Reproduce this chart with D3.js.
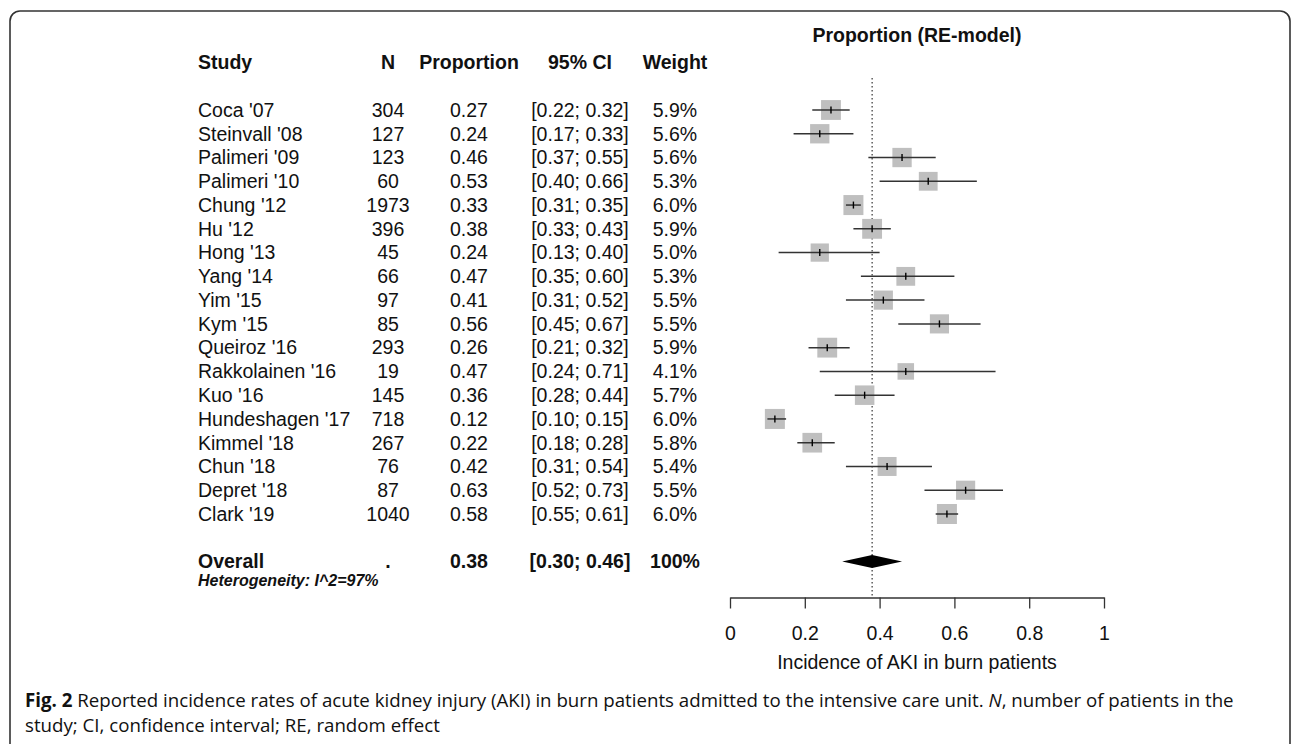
<!DOCTYPE html>
<html>
<head>
<meta charset="utf-8">
<script src="https://cdn.jsdelivr.net/npm/d3@7"></script>
<style>
  body { margin: 0; background: #fff; }
  svg { display: block; }
  text { font-family: "Liberation Sans", Arial, sans-serif; fill: #111; }
</style>
</head>
<body>
<script>
// study rows
const studies = ["Coca '07", "Steinvall '08", "Palimeri '09", "Palimeri '10", "Chung '12", "Hu '12",
  "Hong '13", "Yang '14", "Yim '15", "Kym '15", "Queiroz '16", "Rakkolainen '16", "Kuo '16",
  "Hundeshagen '17", "Kimmel '18", "Chun '18", "Depret '18", "Clark '19"];
const sizes = [304, 127, 123, 60, 1973, 396, 45, 66, 97, 85, 293, 19, 145, 718, 267, 76, 87, 1040];
const proportions = [0.27, 0.24, 0.46, 0.53, 0.33, 0.38, 0.24, 0.47, 0.41, 0.56, 0.26, 0.47, 0.36, 0.12, 0.22, 0.42, 0.63, 0.58];
const ciLow = [0.22, 0.17, 0.37, 0.40, 0.31, 0.33, 0.13, 0.35, 0.31, 0.45, 0.21, 0.24, 0.28, 0.10, 0.18, 0.31, 0.52, 0.55];
const ciHigh = [0.32, 0.33, 0.55, 0.66, 0.35, 0.43, 0.40, 0.60, 0.52, 0.67, 0.32, 0.71, 0.44, 0.15, 0.28, 0.54, 0.73, 0.61];
const weights = [5.9, 5.6, 5.6, 5.3, 6.0, 5.9, 5.0, 5.3, 5.5, 5.5, 5.9, 4.1, 5.7, 6.0, 5.8, 5.4, 5.5, 6.0];

// pooled random-effects estimate
const overallEstimate = [0.38, 0.30, 0.46]; // est, lower, upper
const heterogeneity = "Heterogeneity: I^2=97%";

const xTicks = [0, 0.2, 0.4, 0.6, 0.8, 1];
const columnHeads = ["Study", "N", "Proportion", "95% CI", "Weight"];

const W = 1292, H = 744;
const f2 = d3.format(".2f");
const fs = 19.5;

const svg = d3.select("body").append("svg")
    .attr("width", W)
    .attr("height", H);

// rounded frame around the figure (runs off the bottom)
svg.append("rect")
    .attr("x", 10).attr("y", 11)
    .attr("width", 1280).attr("height", 900)
    .attr("rx", 10)
    .attr("fill", "none")
    .attr("stroke", "#333")
    .attr("stroke-width", 1.6);

const x = d3.scaleLinear().domain([0, 1]).range([730, 1104]);
const row = d3.scaleLinear().domain([0, studies.length - 1]).range([110, 514]);
const side = d3.scaleSqrt().domain([0, 6]).range([0, 20]);

// column positions (centre of each text column, study is left aligned)
const colX = [198, 388, 469, 580, 675];
const colAnchor = ["start", "middle", "middle", "middle", "middle"];

const table = svg.append("g").attr("font-size", fs);

table.selectAll("text.head")
    .data(columnHeads)
    .join("text")
        .attr("class", "head")
        .attr("x", (d, i) => colX[i])
        .attr("y", row(-2))
        .attr("dy", "0.35em")
        .attr("text-anchor", (d, i) => colAnchor[i])
        .attr("font-weight", "bold")
        .text(d => d);

const rowCells = studies.map((s, i) => [
    s, sizes[i], f2(proportions[i]), `[${f2(ciLow[i])}; ${f2(ciHigh[i])}]`, weights[i].toFixed(1) + "%"
]);

table.selectAll("g.row")
    .data(rowCells)
    .join("g")
        .attr("class", "row")
        .attr("transform", (d, i) => `translate(0,${row(i)})`)
    .selectAll("text")
    .data(d => d)
    .join("text")
        .attr("x", (d, i) => colX[i])
        .attr("dy", "0.35em")
        .attr("text-anchor", (d, i) => colAnchor[i])
        .text(d => d);

const overallY = row(studies.length + 1);
const overallCells = ["Overall", ".", f2(overallEstimate[0]),
    `[${f2(overallEstimate[1])}; ${f2(overallEstimate[2])}]`, "100%"];
table.append("g")
    .attr("transform", `translate(0,${overallY})`)
    .selectAll("text")
    .data(overallCells)
    .join("text")
        .attr("x", (d, i) => colX[i])
        .attr("dy", "0.35em")
        .attr("text-anchor", (d, i) => colAnchor[i])
        .attr("font-weight", "bold")
        .text(d => d);

svg.append("text")
    .attr("x", colX[0])
    .attr("y", overallY + 18.5)
    .attr("dy", "0.35em")
    .attr("font-size", 16)
    .attr("font-weight", "bold")
    .attr("font-style", "italic")
    .text(heterogeneity);

// forest panel
svg.append("text")
    .attr("x", x(0.5))
    .attr("y", 35)
    .attr("dy", "0.35em")
    .attr("text-anchor", "middle")
    .attr("font-size", fs)
    .attr("font-weight", "bold")
    .text("Proportion (RE-model)");

const axisY = 597.5;

svg.append("line")
    .attr("x1", x(overallEstimate[0])).attr("x2", x(overallEstimate[0]))
    .attr("y1", 78).attr("y2", axisY)
    .attr("stroke", "#222")
    .attr("stroke-width", 1.1)
    .attr("stroke-dasharray", "1.5,2.5");

const marks = svg.append("g")
    .selectAll("g")
    .data(studies.map((s, i) => i))
    .join("g")
        .attr("transform", i => `translate(0,${row(i)})`);

marks.append("rect")
    .attr("x", i => x(proportions[i]) - side(weights[i]) / 2)
    .attr("y", i => -side(weights[i]) / 2)
    .attr("width", i => side(weights[i]))
    .attr("height", i => side(weights[i]))
    .attr("fill", "#bfbfbf");

marks.append("line")
    .attr("x1", i => x(ciLow[i]))
    .attr("x2", i => x(ciHigh[i]))
    .attr("stroke", "#333")
    .attr("stroke-width", 1.5);

marks.append("line")
    .attr("x1", i => x(proportions[i]))
    .attr("x2", i => x(proportions[i]))
    .attr("y1", -3.5).attr("y2", 3.5)
    .attr("stroke", "#000")
    .attr("stroke-width", 1.4);

const [est, lo, hi] = overallEstimate;
svg.append("path")
    .attr("d", d3.line()([[x(lo), overallY], [x(est), overallY - 6.5], [x(hi), overallY], [x(est), overallY + 6.5]]) + "Z")
    .attr("fill", "#000");

svg.append("g")
    .attr("transform", `translate(0,${axisY})`)
    .call(d3.axisBottom(x)
        .tickValues(xTicks)
        .tickFormat(d3.format("~g"))
        .tickSize(11)
        .tickSizeOuter(0)
        .tickPadding(18))
    .call(g => g.selectAll("path, line").attr("stroke", "#333").attr("stroke-width", 1.3))
    .call(g => g.selectAll("text")
        .attr("font-size", fs)
        .attr("font-family", "Liberation Sans, Arial, sans-serif")
        .attr("fill", "#111"));

svg.append("text")
    .attr("x", x(0.5))
    .attr("y", 669)
    .attr("text-anchor", "middle")
    .attr("font-size", fs)
    .text("Incidence of AKI in burn patients");

// caption
const caption = svg.append("g")
    .attr("font-size", 17)
    .style("font-family", "'Open Sans', 'Noto Sans', sans-serif");

const line1 = caption.append("text")
    .attr("x", 25).attr("y", 707)
    .style("font-family", "inherit")
    .attr("fill", "#231f20");
line1.append("tspan").attr("font-weight", "bold").text("Fig. 2");
line1.append("tspan").text(" Reported incidence rates of acute kidney injury (AKI) in burn patients admitted to the intensive care unit. ");
line1.append("tspan").attr("font-style", "italic").text("N");
line1.append("tspan").text(", number of patients in the");

caption.append("text")
    .attr("x", 25).attr("y", 732)
    .style("font-family", "inherit")
    .attr("fill", "#231f20")
    .text("study; CI, confidence interval; RE, random effect");

// shrink the caption so the first line ends where it does in the figure
const len = line1.node().getComputedTextLength();
caption.attr("font-size", 17 * 1210 / len);
</script>
</body>
</html>
